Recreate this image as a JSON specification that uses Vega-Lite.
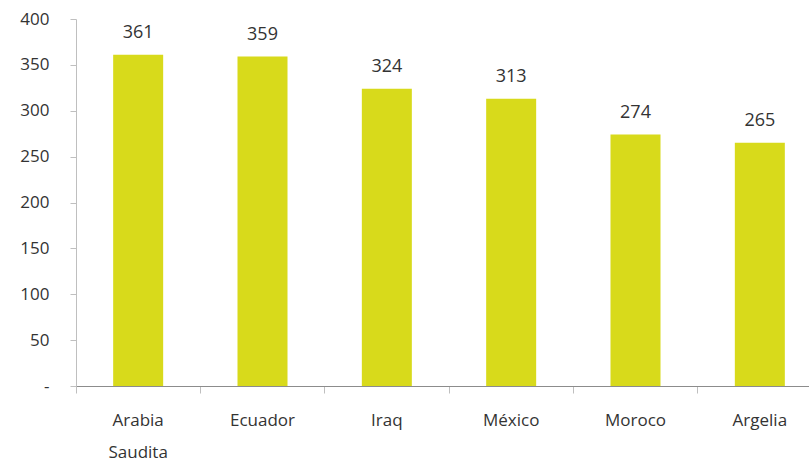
{
  "$schema": "https://vega.github.io/schema/vega-lite/v6.json",
  "autosize": "none",
  "width": 733,
  "height": 367,
  "padding": {"left": 76, "top": 19, "right": 0, "bottom": 76},
  "background": "white",
  "config": {"view": {"stroke": null}, "font": "Open Sans"},
  "data": {"values": [
    {"pais": "Arabia Saudita", "valor": 361},
    {"pais": "Ecuador", "valor": 359},
    {"pais": "Iraq", "valor": 324},
    {"pais": "México", "valor": 313},
    {"pais": "Moroco", "valor": 274},
    {"pais": "Argelia", "valor": 265}
  ]},
  "encoding": {
    "x": {
      "field": "pais", "type": "nominal", "sort": null,
      "scale": {"range": [0, 746], "paddingInner": 0, "paddingOuter": 0},
      "axis": {
        "title": null, "labelAngle": 0, "bandPosition": 0,
        "domainColor": "#8c8c8c", "tickColor": "#bfbfbf", "tickSize": 7,
        "labelFontSize": 17, "labelColor": "#333333", "labelPadding": 19,
        "labelExpr": "datum.value == 'Arabia Saudita' ? ['Arabia', 'Saudita'] : datum.label",
        "labelLineHeight": 32, "labelBaseline": "top"
      }
    },
    "y": {
      "field": "valor", "type": "quantitative",
      "scale": {"domain": [0, 400], "nice": false},
      "axis": {
        "title": null, "grid": false, "values": [0, 50, 100, 150, 200, 250, 300, 350, 400],
        "domainColor": "#bfbfbf", "tickColor": "#bfbfbf", "tickSize": 6,
        "labelFontSize": 17, "labelColor": "#333333", "labelPadding": 21,
        "labelExpr": "datum.value == 0 ? '-' : datum.label"
      }
    }
  },
  "layer": [
    {"mark": {"type": "bar", "width": 50, "color": "#d8da1b"}},
    {"mark": {"type": "text", "dy": -22, "fontSize": 18, "color": "#333333"},
     "encoding": {"text": {"field": "valor", "type": "quantitative"}}}
  ]
}
